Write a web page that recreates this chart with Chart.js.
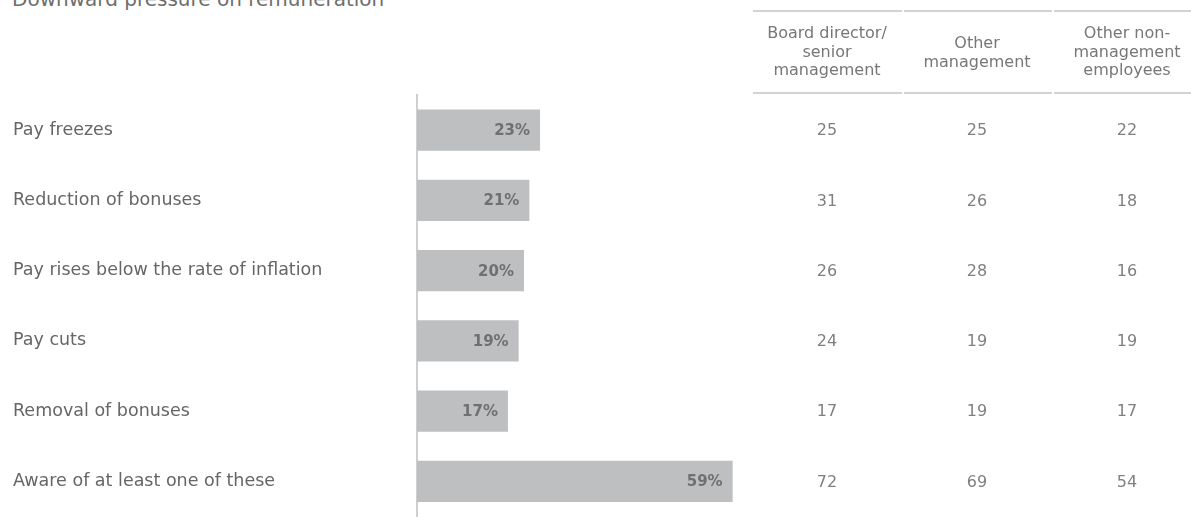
<!DOCTYPE html>
<html>
<head>
<meta charset="utf-8">
<script src="https://cdn.jsdelivr.net/npm/chart.js@4"></script>
<style>
    html, body { margin: 0; padding: 0; background: #ffffff; overflow: hidden; }
    #wrap { position: relative; width: 1191px; height: 517px; overflow: hidden; }
    #title {
        position: absolute; left: 12px; top: -13px; line-height: 20px;
        font: 20px "DejaVu Sans", sans-serif; color: #6e6e6e; white-space: nowrap;
    }
    #chart { position: absolute; left: 0; top: 0; }
</style>
</head>
<body>
<div id="wrap">
    <div id="title">Downward pressure on remuneration</div>
    <canvas id="chart" width="1191" height="527"></canvas>
</div>
<script>
// Survey answers: share of respondents aware of each kind of pay pressure
const categories = [
    'Pay freezes',
    'Reduction of bonuses',
    'Pay rises below the rate of inflation',
    'Pay cuts',
    'Removal of bonuses',
    'Aware of at least one of these'
];
const overallPct = [23, 21, 20, 19, 17, 59];

// Breakdown by respondent seniority (shown as a table to the right)
const boardSenior = [25, 31, 26, 24, 17, 72];
const otherMgmt = [25, 26, 28, 19, 19, 69];
const nonMgmt = [22, 18, 16, 19, 17, 54];
const columnHeaders = [
    ['Board director/', 'senior', 'management'],
    ['Other', 'management'],
    ['Other non-', 'management', 'employees']
];

const FONT = '"DejaVu Sans", sans-serif';

// Percent labels inside the right end of each bar
const barValueLabels = {
    id: 'barValueLabels',
    afterDatasetsDraw(chart) {
        const ctx = chart.ctx;
        const meta = chart.getDatasetMeta(0);
        ctx.save();
        ctx.font = 'bold 15px ' + FONT;
        ctx.fillStyle = '#707070';
        ctx.textAlign = 'right';
        ctx.textBaseline = 'middle';
        meta.data.forEach((bar, i) => {
            ctx.fillText(overallPct[i] + '%', bar.x - 10, bar.y + 1);
        });
        ctx.restore();
    }
};

// Side table: header with rules, then one row of numbers per category
const sideTable = {
    id: 'sideTable',
    afterDraw(chart) {
        const ctx = chart.ctx;
        const yScale = chart.scales.y;
        const colX = [827, 977, 1127];
        const colEdges = [[753, 902], [904, 1052], [1054, 1191]];
        const columns = [boardSenior, otherMgmt, nonMgmt];

        ctx.save();
        ctx.strokeStyle = '#d3d3d3';
        ctx.lineWidth = 2;
        [11, 93].forEach(y => {
            colEdges.forEach(([a, b]) => {
                ctx.beginPath();
                ctx.moveTo(a, y);
                ctx.lineTo(b, y);
                ctx.stroke();
            });
        });

        ctx.font = '16px ' + FONT;
        ctx.fillStyle = '#777777';
        ctx.textAlign = 'center';
        ctx.textBaseline = 'alphabetic';
        columnHeaders.forEach((lines, c) => {
            const start = lines.length === 3 ? 38 : 48;
            lines.forEach((line, k) => {
                ctx.fillText(line, colX[c], start + k * 18.5);
            });
        });

        ctx.fillStyle = '#808080';
        ctx.textBaseline = 'middle';
        categories.forEach((_, i) => {
            const y = yScale.getPixelForValue(i);
            columns.forEach((col, c) => {
                ctx.fillText(String(col[i]), colX[c], y + 1);
            });
        });
        ctx.restore();
    }
};

const chart = new Chart(document.getElementById('chart'), {
    type: 'bar',
    data: {
        labels: categories,
        datasets: [{
            data: overallPct,
            backgroundColor: '#bebfc1',
            barPercentage: 1,
            categoryPercentage: 0.59
        }]
    },
    options: {
        indexAxis: 'y',
        responsive: false,
        animation: false,
        devicePixelRatio: 1,
        layout: {
            padding: { left: 13, top: 95, right: 453, bottom: 0 }
        },
        plugins: {
            legend: { display: false },
            tooltip: { enabled: false }
        },
        scales: {
            x: {
                min: 0,
                max: 60,
                display: false
            },
            y: {
                grid: { display: false, drawTicks: false },
                border: { color: '#cfcfcf', width: 2 },
                ticks: {
                    crossAlign: 'far',
                    padding: 0,
                    color: '#666666',
                    font: { family: FONT, size: 17.5 }
                },
                afterFit(scale) {
                    scale.width = 404;
                }
            }
        }
    },
    plugins: [barValueLabels, sideTable]
});
</script>
</body>
</html>
